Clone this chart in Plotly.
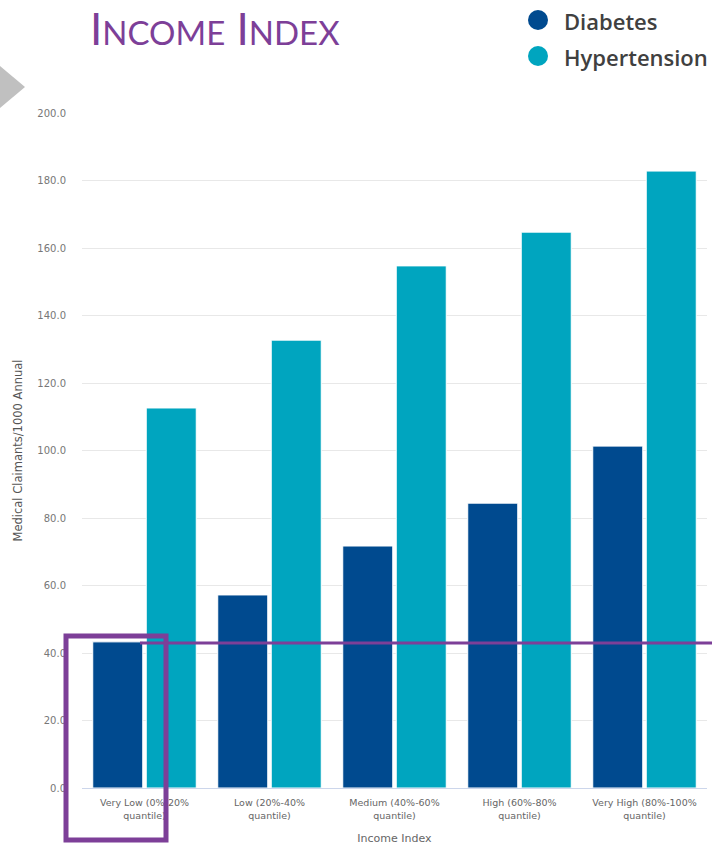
import plotly.graph_objects as go

categories = ["Very Low (0%-20%<br>quantile)", "Low (20%-40%<br>quantile)",
              "Medium (40%-60%<br>quantile)", "High (60%-80%<br>quantile)",
              "Very High (80%-100%<br>quantile)"]
diabetes = [43.3, 57.2, 71.7, 84.4, 101.3]
hypertension = [112.6, 132.7, 154.7, 164.7, 182.8]
series_names = ["Diabetes", "Hypertension"]
highlight_value = 43.0

W, H = 712, 845
L, R, T, B = 82, 5, 113, 57
PW, PH = W - L - R, H - T - B

def px(x):
    return (x - L) / PW

def py(y):
    return (H - B - y) / PH

DIAB_C = "#004a8f"
HYP_C = "#00a5bf"
PURPLE = "#7d3f98"
TICK_FONT = "DejaVu Sans, Verdana, sans-serif"

fig = go.Figure()
fig.add_trace(go.Bar(x=categories, y=diabetes, name=series_names[0],
                     marker=dict(color=DIAB_C, line=dict(color="#ffffff", width=1)),
                     showlegend=False))
fig.add_trace(go.Bar(x=categories, y=hypertension, name=series_names[1],
                     marker=dict(color=HYP_C, line=dict(color="#ffffff", width=1)),
                     showlegend=False))

fig.update_layout(
    width=W, height=H,
    margin=dict(l=L, r=R, t=T, b=B, pad=0),
    paper_bgcolor="white", plot_bgcolor="white",
    barmode="group", bargap=0.144, bargroupgap=0.065,
    font=dict(family="Open Sans, DejaVu Sans, sans-serif", color="#666666"),
    xaxis=dict(showgrid=False, showline=True, linecolor="#ccd6eb", linewidth=1,
               ticks="", ticklabelstandoff=6, automargin=False,
               tickfont=dict(family=TICK_FONT, size=9.5, color="#666666"),
               title=dict(text="Income Index",
                          font=dict(family=TICK_FONT, size=11, color="#666666"), standoff=15)),
    yaxis=dict(range=[0, 200], tick0=0, dtick=20, tickformat=".1f", automargin=False,
               showgrid=True, gridcolor="#e8e8e8", gridwidth=1, zeroline=False,
               tickfont=dict(family=TICK_FONT, size=10, color="#777777"), ticklabelstandoff=15,
               title=dict(text="Medical Claimants/1000 Annual",
                          font=dict(family=TICK_FONT, size=11.5, color="#555555"), standoff=12)),
)

shapes = []
# gray arrow triangle
shapes.append(dict(type="path", xref="paper", yref="paper",
                   path=f"M {px(0)} {py(66)} L {px(25)} {py(87)} L {px(0)} {py(108)} Z",
                   fillcolor="#c0c0c0", line=dict(width=0)))
# legend circles
for cy, col in [(20, DIAB_C), (56, HYP_C)]:
    shapes.append(dict(type="circle", xref="paper", yref="paper",
                       x0=px(528), x1=px(548), y0=py(cy + 10), y1=py(cy - 10),
                       fillcolor=col, line=dict(width=0)))
# purple highlight line
shapes.append(dict(type="line", xref="paper", yref="y",
                   x0=px(140), x1=px(712), y0=highlight_value, y1=highlight_value,
                   line=dict(color=PURPLE, width=3)))
# purple highlight box
shapes.append(dict(type="rect", xref="paper", yref="paper",
                   x0=px(66), x1=px(166), y0=py(840), y1=py(636),
                   line=dict(color=PURPLE, width=5), fillcolor="rgba(0,0,0,0)"))
fig.update_layout(shapes=shapes)

annotations = [
    dict(text="I<span style='font-size:33px'>NCOME</span> I<span style='font-size:33px'>NDEX</span>",
         xref="paper", yref="paper", x=px(88), y=py(28), xanchor="left", yanchor="middle",
         showarrow=False,
         font=dict(family="Lato, Open Sans, sans-serif", size=44, color=PURPLE, weight=400)),
    dict(text=series_names[0], xref="paper", yref="paper", x=px(562), y=py(21),
         xanchor="left", yanchor="middle", showarrow=False,
         font=dict(family="Open Sans, sans-serif", size=22, color="#404040", weight=600)),
    dict(text=series_names[1], xref="paper", yref="paper", x=px(562), y=py(57),
         xanchor="left", yanchor="middle", showarrow=False,
         font=dict(family="Open Sans, sans-serif", size=22, color="#404040", weight=600)),
]
fig.update_layout(annotations=annotations)

fig.write_html("out.html")
